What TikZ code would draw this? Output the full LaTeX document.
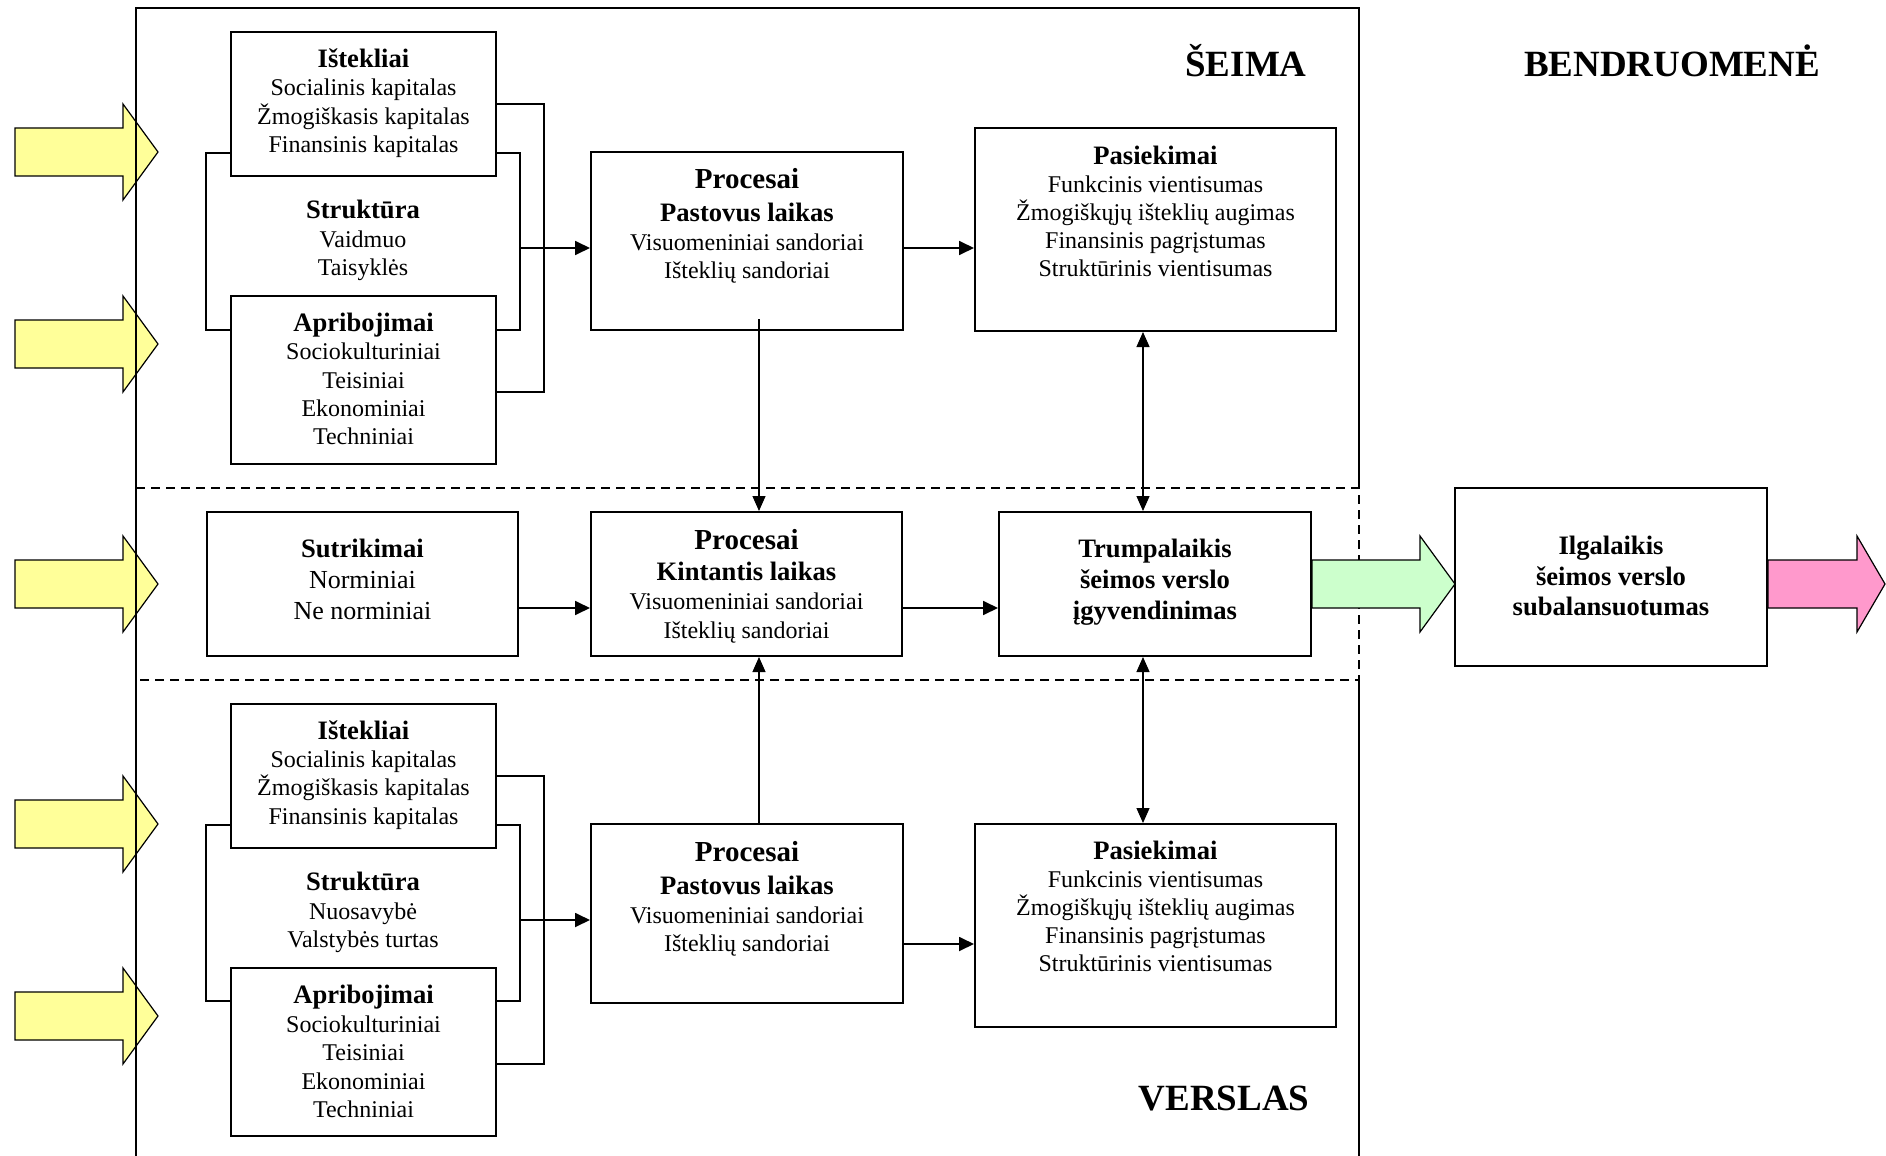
\documentclass[tikz,border=0pt]{standalone}
\usepackage{fontspec}
\setmainfont{Liberation Serif}
\usetikzlibrary{arrows.meta,calc}
\definecolor{arrowyellow}{RGB}{255,255,153}
\definecolor{arrowgreen}{RGB}{204,255,204}
\definecolor{arrowpink}{RGB}{255,153,204}
% bold heading lines inside the boxes
\newcommand\boxhead[1]{\strut{\bfseries\fontsize{13.3}{14.2}\selectfont #1}}
\newcommand\prochead[1]{\strut{\bfseries\fontsize{14.5}{14.2}\selectfont #1}}

\begin{document}
\begin{tikzpicture}[x=0.5pt, y=-0.5pt,
  bx/.style={draw, line width=1pt, inner sep=0pt},
  txt/.style={align=center, inner sep=0pt, yshift=-1.75pt, font=\fontsize{12}{14.2}\selectfont},
  brk/.style={line width=0.9pt},
  arr/.style={line width=0.9pt, -{Triangle[length=7.5pt,width=7pt]}},
  varr/.style={line width=0.6pt, -{Triangle[length=7.5pt,width=6.5pt]}},
  dbl/.style={line width=0.6pt, {Triangle[length=7.5pt,width=6.5pt]}-{Triangle[length=7.5pt,width=6.5pt]}},
  frame/.style={line width=1pt},
  band/.style={line width=0.8pt, dash pattern=on 4.5pt off 3pt},
  region/.style={font=\bfseries\fontsize{18.5}{21}\selectfont, inner sep=0pt, anchor=base},
  pics/fatarrow/.style={code={
    \filldraw[fill=#1, draw=black, line width=0.6pt, line join=miter]
      (0,-24) -- (108,-24) -- (108,-48) -- (143,0) -- (108,48) -- (108,24) -- (0,24) -- cycle;}},
]
\useasboundingbox (0,0) rectangle (1886,1156);

% incoming influences
\pic at (15,152) {fatarrow=arrowyellow};
\pic at (15,344) {fatarrow=arrowyellow};
\pic at (15,584) {fatarrow=arrowyellow};
\pic at (15,824) {fatarrow=arrowyellow};
\pic at (15,1016) {fatarrow=arrowyellow};

% outer frame and the dashed interaction band
\draw[frame] (136,1156) -- (136,8) -- (1359,8) -- (1359,488);
\draw[frame] (1359,680) -- (1359,1156);
\draw[band] (136,488) -- (1359,488) -- (1359,680) -- (136,680);

% region titles
\node[region] (seima) at (1246,77) {ŠEIMA};
\node[region] (bendr) at (1672,77) {BENDRUOMENĖ};
\node[region] (verslas) at (1224,1110) {VERSLAS};

% ---------- family ----------
\node[bx, minimum width=132.5pt, minimum height=72pt] (ist1) at (363.5,104) {};
\node[txt] (ist1-t) at (363.5,101) {\boxhead{Ištekliai}\\Socialinis kapitalas\\Žmogiškasis kapitalas\\Finansinis kapitalas\strut};
\node[txt] (str1) at (363,238) {\boxhead{Struktūra}\\Vaidmuo\\Taisyklės\strut};
\node[bx, minimum width=132.5pt, minimum height=84pt] (apr1) at (363.5,380) {};
\node[txt] (apr1-t) at (363.5,379) {\boxhead{Apribojimai}\\Sociokulturiniai\\Teisiniai\\Ekonominiai\\Techniniai\strut};

\node[bx, minimum width=156pt, minimum height=89pt] (proc1) at (747,241) {};
\node[txt, font=\fontsize{12}{14}\selectfont] (proc1-t) at (747,224.5) {\prochead{Procesai}\\[2.5pt]\boxhead{Pastovus laikas}\\[0.5pt]Visuomeniniai sandoriai\\Išteklių sandoriai\strut};
\node[bx, minimum width=180.5pt, minimum height=101.5pt] (pas1) at (1155.5,229.5) {};
\node[txt, font=\fontsize{12}{14}\selectfont] (pas1-t) at (1155.5,211) {\boxhead{Pasiekimai}\\Funkcinis vientisumas\\Žmogiškųjų išteklių augimas\\Finansinis pagrįstumas\\Struktūrinis vientisumas\strut};

% ---------- interaction band ----------
\node[bx, minimum width=155.5pt, minimum height=72pt] (sut) at (362.5,584) {};
\node[txt, font=\fontsize{13}{15.5}\selectfont] (sut-t) at (362.5,579) {\boxhead{Sutrikimai}\\Norminiai\\Ne norminiai\strut};
\node[bx, minimum width=155.5pt, minimum height=72pt] (kint) at (746.5,584) {};
\node[txt, font=\fontsize{12}{14.5}\selectfont] (kint-t) at (746.5,584.5) {\prochead{Procesai}\\[1pt]\boxhead{Kintantis laikas}\\Visuomeniniai sandoriai\\Išteklių sandoriai\strut};
\node[bx, minimum width=156pt, minimum height=72pt] (trum) at (1155,584) {};
\node[txt, font=\bfseries\fontsize{13.3}{15.5}\selectfont] (trum-t) at (1155,579) {\strut Trumpalaikis\\šeimos verslo\\įgyvendinimas\strut};
\node[bx, minimum width=156pt, minimum height=89pt] (ilg) at (1611,577) {};
\node[txt, font=\bfseries\fontsize{13.3}{15.25}\selectfont] (ilg-t) at (1611,575.5) {\strut Ilgalaikis\\šeimos verslo\\subalansuotumas\strut};

% ---------- business ----------
\node[bx, minimum width=132.5pt, minimum height=72pt] (ist2) at (363.5,776) {};
\node[txt] (ist2-t) at (363.5,772.5) {\boxhead{Ištekliai}\\Socialinis kapitalas\\Žmogiškasis kapitalas\\Finansinis kapitalas\strut};
\node[txt] (str2) at (363,910) {\boxhead{Struktūra}\\Nuosavybė\\Valstybės turtas\strut};
\node[bx, minimum width=132.5pt, minimum height=84pt] (apr2) at (363.5,1052) {};
\node[txt] (apr2-t) at (363.5,1051.5) {\boxhead{Apribojimai}\\Sociokulturiniai\\Teisiniai\\Ekonominiai\\Techniniai\strut};

\node[bx, minimum width=156pt, minimum height=89.5pt] (proc2) at (747,913.5) {};
\node[txt, font=\fontsize{12}{14}\selectfont] (proc2-t) at (747,897.5) {\prochead{Procesai}\\[2.5pt]\boxhead{Pastovus laikas}\\[0.5pt]Visuomeniniai sandoriai\\Išteklių sandoriai\strut};
\node[bx, minimum width=180.5pt, minimum height=101.5pt] (pas2) at (1155.5,925.5) {};
\node[txt, font=\fontsize{12}{14}\selectfont] (pas2-t) at (1155.5,906.5) {\boxhead{Pasiekimai}\\Funkcinis vientisumas\\Žmogiškųjų išteklių augimas\\Finansinis pagrįstumas\\Struktūrinis vientisumas\strut};

% outgoing results
\pic at (trum.east) {fatarrow=arrowgreen};
\filldraw[fill=arrowpink, draw=black, line width=0.6pt, line join=miter]
  (1768,560) -- (1857,560) -- (1857,536) -- (1885,584) -- (1857,632) -- (1857,608) -- (1768,608) -- cycle;

% brackets joining resources, structure and constraints
\draw[brk] ($(ist1.south west)+(0,-24)$) -- ++(-24,0) |- ($(apr1.north west)+(0,35)$);
\draw[brk] ($(ist1.south east)+(0,-24)$) -- ++(23,0) |- ($(apr1.north east)+(0,35)$);
\draw[brk] (ist1.east) -- ++(47,0) |- ($(apr1.east)+(0,12)$);
\draw[brk] ($(ist2.south west)+(0,-24)$) -- ++(-24,0) |- ($(apr2.north west)+(0,34)$);
\draw[brk] ($(ist2.south east)+(0,-24)$) -- ++(23,0) |- ($(apr2.north east)+(0,34)$);
\draw[brk] (ist2.east) -- ++(47,0) |- ($(apr2.east)+(0,12)$);

% flows
\coordinate (j1) at (519,248);
\draw[arr] (j1) -- (j1 -| proc1.west);
\draw[arr] (j1 -| proc1.east) -- (j1 -| pas1.west);
\coordinate (j2) at (518,608);
\draw[arr] (j2 -| sut.east) -- (j2 -| kint.west);
\draw[arr] (j2 -| kint.east) -- (j2 -| trum.west);
\coordinate (j3) at (519,920);
\draw[arr] (j3) -- (j3 -| proc2.west);
\coordinate (j4) at (903,944);
\draw[arr] (j4 -| proc2.east) -- (j4 -| pas2.west);

\coordinate (v1) at (759,319);
\draw[varr] (v1) -- (v1 |- kint.north);
\draw[varr] (v1 |- proc2.north) -- (v1 |- kint.south);
\coordinate (v2) at (1143,400);
\draw[dbl] (v2 |- pas1.south) -- (v2 |- trum.north);
\draw[dbl] (v2 |- trum.south) -- (v2 |- pas2.north);
\end{tikzpicture}
\end{document}
